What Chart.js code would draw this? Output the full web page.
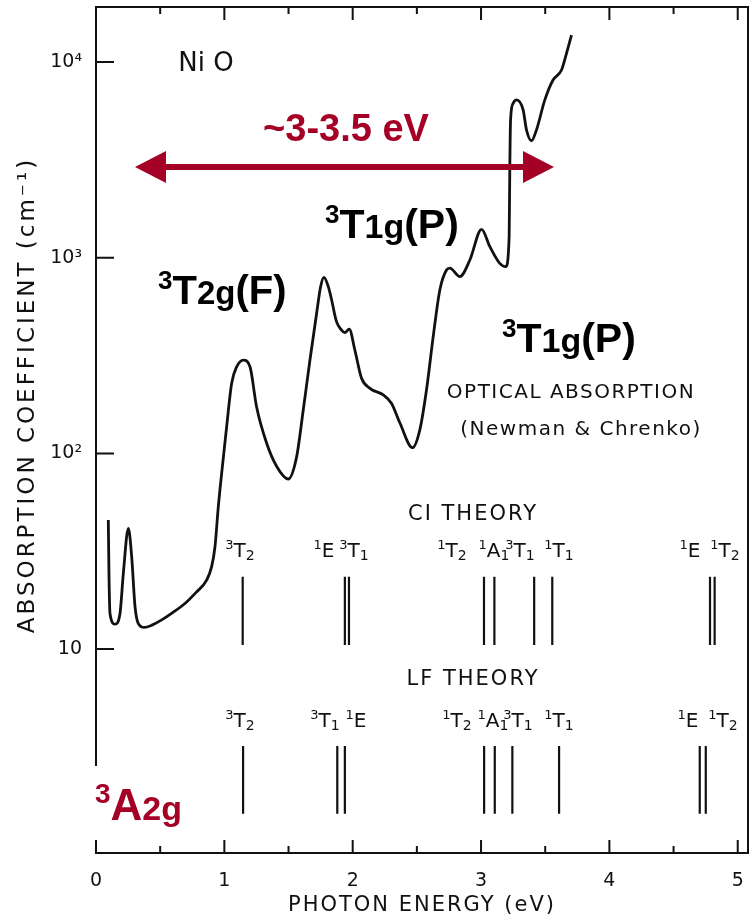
<!DOCTYPE html>
<html>
<head>
<meta charset="utf-8">
<script src="https://cdn.jsdelivr.net/npm/chart.js@4.4.1/dist/chart.umd.min.js"></script>
<style>
  html, body { margin: 0; padding: 0; background: #fff; }
</style>
</head>
<body>
<canvas id="myChart" width="750" height="919"></canvas>
<script>
// optical absorption of NiO (Newman & Chrenko)
const energy = [0.096, 0.101, 0.109, 0.148, 0.187, 0.213, 0.252, 0.278, 0.304, 0.33, 0.376, 0.44, 0.512, 0.6, 0.693, 0.78, 0.862, 0.901, 0.927, 0.953, 0.979, 1.018, 1.057, 1.096, 1.148, 1.2, 1.251, 1.329, 1.407, 1.498, 1.563, 1.615, 1.667, 1.719, 1.75, 1.776, 1.81, 1.836, 1.874, 1.913, 1.939, 1.973, 2.017, 2.069, 2.134, 2.238, 2.303, 2.368, 2.466, 2.523, 2.575, 2.627, 2.679, 2.731, 2.757, 2.835, 2.913, 3.004, 3.069, 3.146, 3.193, 3.219, 3.224, 3.23, 3.25, 3.276, 3.328, 3.354, 3.393, 3.432, 3.497, 3.561, 3.627, 3.666, 3.705]
const absorption = [45.7, 24.4, 15.2, 13.4, 15.2, 24.4, 41.4, 29.7, 16.5, 13.5, 12.9, 13.3, 14.1, 15.4, 17.1, 19.5, 22.5, 26.4, 33.3, 53.4, 79, 137, 228, 277, 300, 277, 173, 113, 86, 74, 96, 167, 300, 520, 711, 794, 711, 608, 471, 427, 414, 432, 337, 242, 215, 199, 180, 143, 107, 132, 211, 394, 684, 865, 884, 800, 973, 1397, 1138, 935, 900, 1280, 2806, 5055, 6150, 6400, 5690, 4500, 3960, 4500, 6400, 8090, 9100, 11080, 13730]

// theory level positions (eV)
const ciLevels = [1.143, 1.939, 1.971, 3.023, 3.104, 3.414, 3.555, 4.784, 4.82]
const lfLevels = [1.146, 1.88, 1.939, 3.024, 3.107, 3.244, 3.608, 4.704, 4.751]
const ciStates = [["3", "T", "2"], ["1", "E", ""], ["3", "T", "1"], ["1", "T", "2"], ["1", "A", "1"], ["3", "T", "1"], ["1", "T", "1"], ["1", "E", ""], ["1", "T", "2"]]
const lfStates = [["3", "T", "2"], ["3", "T", "1"], ["1", "E", ""], ["1", "T", "2"], ["1", "A", "1"], ["3", "T", "1"], ["1", "T", "1"], ["1", "E", ""], ["1", "T", "2"]]

const xTicks = [0, 0.5, 1, 1.5, 2, 2.5, 3, 3.5, 4, 4.5, 5]
const yTicks = [10, 100, 1000, 10000]
const yTickLabels = ["10", "10²", "10³", "10⁴"]

const INK = "#111"
const RED = "#A50025"
const LETTER = '"DejaVu Sans", sans-serif'
const BOLD = '"Liberation Sans", Arial, sans-serif'

// vertical sticks for the theory levels, gaps between them
function sticks(levels, lo, hi) {
    const pts = []
    levels.forEach(e => {
        pts.push({ x: e, y: lo }, { x: e, y: hi }, { x: e, y: null })
    })
    return pts
}

function drawParts(ctx, x, base, parts, color, weight, align) {
    ctx.fillStyle = color
    ctx.textAlign = "left"
    ctx.textBaseline = "alphabetic"
    let w = 0
    parts.forEach(p => {
        ctx.font = weight + p[1] + "px " + (weight ? BOLD : LETTER)
        w += ctx.measureText(p[0]).width
    })
    let cx = align === "center" ? x - w / 2 : x
    parts.forEach(p => {
        ctx.font = weight + p[1] + "px " + (weight ? BOLD : LETTER)
        ctx.fillText(p[0], cx, base + p[2])
        cx += ctx.measureText(p[0]).width
    })
}

function stateParts(s) {
    return [[s[0], 13, -8], [s[1], 20, 0], [s[2], 14, 3]]
}

const decor = {
    id: "decor",
    afterDraw(chart) {
        const ctx = chart.ctx
        const a = chart.chartArea
        const xs = chart.scales.x
        const ys = chart.scales.y
        ctx.save()

        // frame: top and right sides
        ctx.strokeStyle = INK
        ctx.lineWidth = 2
        ctx.beginPath()
        ctx.moveTo(a.left, a.top)
        ctx.lineTo(a.right, a.top)
        ctx.lineTo(a.right, a.bottom)
        ctx.stroke()

        // inward ticks
        ctx.beginPath()
        xTicks.forEach(v => {
            const px = xs.getPixelForValue(v)
            const len = Number.isInteger(v) ? 13 : 7
            ctx.moveTo(px, a.bottom)
            ctx.lineTo(px, a.bottom - len)
            ctx.moveTo(px, a.top)
            ctx.lineTo(px, a.top + len)
        })
        yTicks.forEach(v => {
            const py = ys.getPixelForValue(v)
            ctx.moveTo(a.left, py)
            ctx.lineTo(a.left + 18, py)
        })
        ctx.stroke()

        // axis titles
        ctx.fillStyle = INK
        ctx.textAlign = "center"
        ctx.textBaseline = "middle"
        ctx.font = "21px " + LETTER
        ctx.letterSpacing = "2px"
        ctx.fillText("PHOTON ENERGY (eV)", 422, 906)
        ctx.save()
        ctx.translate(28, 395)
        ctx.rotate(-Math.PI / 2)
        ctx.font = "23px " + LETTER
        ctx.letterSpacing = "3px"
        ctx.fillText("ABSORPTION COEFFICIENT (cm⁻¹)", 0, 0)
        ctx.restore()

        // plain lettering inside the plot
        ctx.font = "26px " + LETTER
        ctx.letterSpacing = "0px"
        ctx.fillText("Ni O", 206, 64)
        ctx.font = "20px " + LETTER
        ctx.letterSpacing = "1.5px"
        ctx.fillText("OPTICAL ABSORPTION", 571, 393)
        ctx.fillText("(Newman & Chrenko)", 581, 430)
        ctx.letterSpacing = "2px"
        ctx.font = "21px " + LETTER
        ctx.fillText("CI THEORY", 473, 515)
        ctx.fillText("LF THEORY", 473, 680)
        ctx.letterSpacing = "0px"

        // state labels above the sticks
        const ciX = [240, 324, 354, 452, 494, 520, 559, 690, 725]
        const lfX = [240, 325, 356, 457, 493, 518, 559, 688, 723]
        ciStates.forEach((s, i) => drawParts(ctx, ciX[i], 557, stateParts(s), INK, "", "center"))
        lfStates.forEach((s, i) => drawParts(ctx, lfX[i], 727, stateParts(s), INK, "", "center"))

        // bold term labels
        drawParts(ctx, 158, 304, [["3", 26, -15], ["T", 40, 0], ["2g", 33, 0], ["(F)", 40, 0]], "#000", "bold ", "left")
        drawParts(ctx, 325, 238, [["3", 26, -15], ["T", 41, 0], ["1g", 34, 0], ["(P)", 41, 0]], "#000", "bold ", "left")
        drawParts(ctx, 502, 352, [["3", 26, -15], ["T", 41, 0], ["1g", 34, 0], ["(P)", 41, 0]], "#000", "bold ", "left")

        // ground state label, breaking the axis line
        ctx.fillStyle = "#fff"
        ctx.fillRect(88, 766, 16, 74)
        drawParts(ctx, 95, 820, [["3", 28, -17], ["A", 44, 0], ["2g", 34, 0]], RED, "bold ", "left")

        // red double arrow with its caption
        ctx.fillStyle = RED
        ctx.font = "bold 38px " + BOLD
        ctx.textAlign = "center"
        ctx.textBaseline = "alphabetic"
        ctx.fillText("~3-3.5 eV", 346, 141)
        ctx.strokeStyle = RED
        ctx.lineWidth = 6
        ctx.beginPath()
        ctx.moveTo(160, 167)
        ctx.lineTo(530, 167)
        ctx.stroke()
        ctx.beginPath()
        ctx.moveTo(135, 167)
        ctx.lineTo(166, 151)
        ctx.lineTo(166, 183)
        ctx.closePath()
        ctx.moveTo(554, 167)
        ctx.lineTo(523, 151)
        ctx.lineTo(523, 183)
        ctx.closePath()
        ctx.fill()

        ctx.restore()
    }
}

const ctx = document.getElementById("myChart")
const myChart = new Chart(ctx, {
    type: "line",
    data: {
        datasets: [{
            label: "Optical absorption",
            data: energy.map((e, i) => ({ x: e, y: absorption[i] })),
            borderColor: INK,
            borderWidth: 2.8,
            pointRadius: 0,
            cubicInterpolationMode: "monotone",
            fill: false
        }, {
            label: "CI theory",
            data: sticks(ciLevels, 10.5, 23.4),
            borderColor: INK,
            borderWidth: 2.2,
            pointRadius: 0,
            spanGaps: false
        }, {
            label: "LF theory",
            data: sticks(lfLevels, 1.44, 3.2),
            borderColor: INK,
            borderWidth: 2.2,
            pointRadius: 0,
            spanGaps: false
        }]
    },
    options: {
        responsive: false,
        animation: false,
        layout: { padding: { top: 7, right: 2, left: 0, bottom: 0 } },
        plugins: {
            legend: { display: false },
            tooltip: { enabled: false }
        },
        scales: {
            x: {
                type: "linear",
                min: 0,
                max: 5.08,
                afterBuildTicks: scale => { scale.ticks = xTicks.map(v => ({ value: v })) },
                afterFit: scale => {
                    scale.height = 66
                    scale.paddingLeft = 0
                    scale.paddingRight = 0
                },
                grid: { display: false },
                border: { display: true, color: INK, width: 2 },
                ticks: {
                    padding: 9,
                    maxRotation: 0,
                    autoSkip: false,
                    color: INK,
                    font: { family: "DejaVu Sans", size: 19 },
                    callback: v => Number.isInteger(v) ? String(v) : ""
                }
            },
            y: {
                type: "logarithmic",
                min: 0.908,
                max: 19100,
                afterBuildTicks: scale => { scale.ticks = yTicks.map(v => ({ value: v })) },
                afterFit: scale => {
                    scale.width = 96
                    scale.paddingTop = 0
                    scale.paddingBottom = 0
                },
                grid: { display: false },
                border: { display: true, color: INK, width: 2 },
                ticks: {
                    padding: 6,
                    autoSkip: false,
                    color: INK,
                    font: { family: "DejaVu Sans", size: 19 },
                    callback: v => yTickLabels[yTicks.indexOf(v)] || ""
                }
            }
        }
    },
    plugins: [decor]
})
</script>
</body>
</html>
